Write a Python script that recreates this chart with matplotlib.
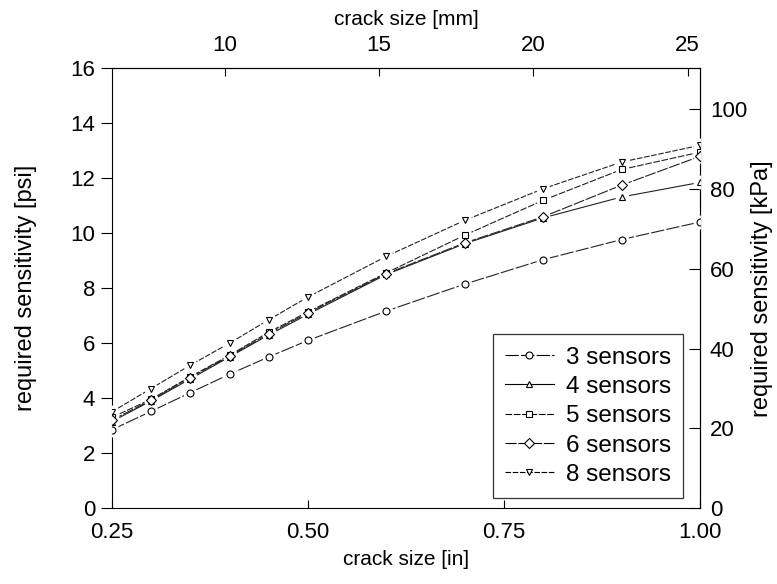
import matplotlib
matplotlib.use('Agg')
import matplotlib.pyplot as plt

# crack size [in]
crack_in = [0.25, 0.30, 0.35, 0.40, 0.45, 0.50, 0.60, 0.70, 0.80, 0.90, 1.00]

# required sensitivity [psi]
s3 = [2.85, 3.52, 4.20, 4.87, 5.50, 6.10, 7.17, 8.15, 9.04, 9.77, 10.41]
s4 = [3.15, 3.90, 4.70, 5.50, 6.30, 7.05, 8.50, 9.62, 10.56, 11.32, 11.85]
s5 = [3.30, 3.96, 4.78, 5.56, 6.40, 7.14, 8.56, 9.93, 11.20, 12.32, 12.95]
s6 = [3.20, 3.93, 4.75, 5.53, 6.35, 7.10, 8.53, 9.65, 10.60, 11.75, 12.80]
s8 = [3.50, 4.35, 5.20, 6.00, 6.85, 7.68, 9.16, 10.47, 11.62, 12.59, 13.20]

labels = ['3 sensors', '4 sensors', '5 sensors', '6 sensors', '8 sensors']
series = [s3, s4, s5, s6, s8]
markers = ['o', '^', 's', 'D', 'v']
styles = [(0, (12, 2)), '-', (0, (6, 1.5)), (0, (10, 1.5)), (0, (5, 1.5))]

plt.rcParams['font.family'] = ['Liberation Sans', 'DejaVu Sans']
plt.rcParams['font.size'] = 15

fig = plt.figure(figsize=(7.77, 5.84), dpi=100)
ax = fig.add_axes([0.144, 0.130, 0.757, 0.753])

for y, lab, m, ls in zip(series, labels, markers, styles):
    # white halo so the line stops short of each marker, like the original
    ax.plot(crack_in, y, linestyle='none', marker='o', markersize=9,
            markerfacecolor='white', markeredgecolor='white', zorder=3)
    ax.plot(crack_in, y, color='#222222', lw=0.8, linestyle=ls, zorder=2)
    ax.plot(crack_in, y, linestyle='none', marker=m, markersize=5,
            markerfacecolor='white', markeredgecolor='black',
            markeredgewidth=0.8, zorder=4)

# legend proxies (line with a marker in the middle)
handles = [plt.Line2D([], [], color='black', lw=0.8, linestyle=ls, marker=m,
                      markersize=5, markerfacecolor='white',
                      markeredgewidth=0.8)
           for m, ls in zip(markers, styles)]

ax.set_xlim(0.25, 1.00)
ax.set_ylim(0, 16)
ax.set_xticks([0.25, 0.50, 0.75, 1.00])
ax.set_xticklabels(['0.25', '0.50', '0.75', '1.00'])
ax.set_yticks(range(0, 17, 2))
ax.tick_params(axis='both', labelsize=16)
ax.tick_params(axis='y', direction='out', length=8, pad=4)
ax.tick_params(axis='x', direction='in', length=6, pad=10)
ax.set_xlabel('crack size [in]', labelpad=5)
ax.set_ylabel('required sensitivity [psi]', fontsize=17, labelpad=24)

top = ax.secondary_xaxis('top', functions=(lambda x: x * 25.4, lambda x: x / 25.4))
top.set_xticks([10, 15, 20, 25])
top.tick_params(direction='in', length=6, pad=9, labelsize=16)
top.set_xlabel('crack size [mm]', labelpad=7)

right = ax.secondary_yaxis('right', functions=(lambda y: y * 6.895, lambda y: y / 6.895))
right.set_yticks([0, 20, 40, 60, 80, 100])
right.tick_params(direction='in', length=8, pad=7, labelsize=16)
right.set_ylabel('required sensitivity [kPa]', fontsize=17, labelpad=3)

leg = ax.legend(handles, labels, loc='lower right', frameon=True,
                fancybox=False, edgecolor='black', handlelength=2.0,
                handletextpad=0.5, borderpad=0.5, labelspacing=0.3,
                borderaxespad=0, bbox_to_anchor=(0.971, 0.023),
                prop={'size': 17.5})
leg.get_frame().set_linewidth(0.9)
leg.set_zorder(5)

fig.savefig('out.png', dpi=100)
